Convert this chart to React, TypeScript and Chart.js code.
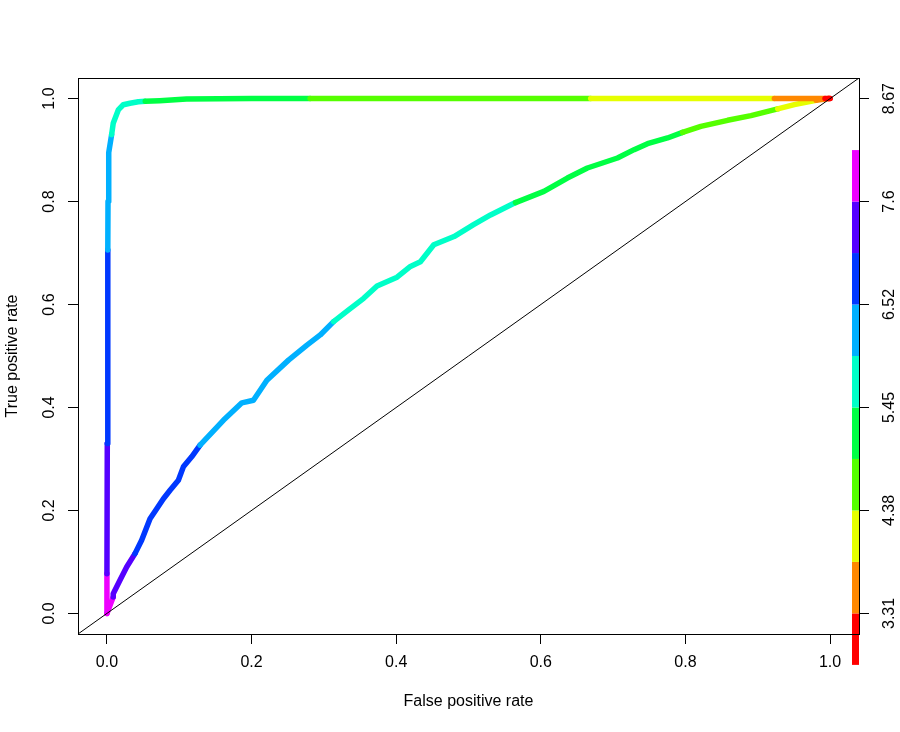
import React, { useEffect, useRef } from 'react';
import { Chart, registerables } from 'chart.js';

Chart.register(...registerables);

// ---- axis ticks ----
const xTicks = [0, 0.2, 0.4, 0.6, 0.8, 1.0];
const yTicks = [0, 0.2, 0.4, 0.6, 0.8, 1.0];
const colorbarLabels = ['3.31', '4.38', '5.45', '6.52', '7.6', '8.67'];

// ---- colour key (low cutoff -> high cutoff) ----
const palette = ['#FF0000', '#FF8800', '#E6FF00', '#55FF00', '#00FF44', '#00FFC8', '#00B0FF', '#0038FF', '#5500FF', '#EE00FF'];
const cutoffMin = 2.774;
const cutoffMax = 8.134;

// ---- ROC curve A (near-perfect classifier) ----
const rocA_fpr = [0, 0, 0.0005, 0.0012, 0.0015, 0.0025, 0.0065, 0.0087, 0.0157, 0.0226, 0.0319, 0.0434, 0.053, 0.073, 0.110, 0.200, 0.281, 0.669, 0.923, 0.993, 1.0];
const rocA_tpr = [0, 0.077, 0.33, 0.706, 0.80, 0.895, 0.930, 0.952, 0.978, 0.988, 0.991, 0.994, 0.995, 0.996, 0.999, 1.0, 1.0, 1.0, 1.0, 1.0, 1.0];
const rocA_cut = [8.0, 7.4, 6.8, 6.3, 6.2, 6.1, 5.9, 5.85, 5.8, 5.7, 5.6, 5.5, 5.3, 5.2, 5.1, 5.0, 4.8, 4.2, 3.7, 3.0, 2.9];

// ---- ROC curve B (moderate classifier) ----
const rocB_fpr = [0, 0.0087, 0.0087, 0.018, 0.0273, 0.0388, 0.0480, 0.0596, 0.0689, 0.0781, 0.0873, 0.0988, 0.1057, 0.1172, 0.1288,
  0.161, 0.1866, 0.2026, 0.2212, 0.2511, 0.2766, 0.2950, 0.3134, 0.3342, 0.355, 0.3735, 0.4012, 0.4197, 0.4335, 0.452, 0.480,
  0.507, 0.5305, 0.565, 0.6043, 0.6367, 0.6644, 0.706, 0.729, 0.7475, 0.7752, 0.796, 0.8213, 0.8583, 0.8906, 0.9276, 0.9506,
  0.9806, 0.998, 1.0];
const rocB_tpr = [0, 0.0317, 0.0383, 0.0642, 0.0901, 0.1161, 0.1420, 0.1838, 0.2033, 0.2228, 0.2393, 0.2588, 0.2847, 0.3042, 0.3268,
  0.375, 0.409, 0.414, 0.453, 0.492, 0.521, 0.5409, 0.5667, 0.5895, 0.612, 0.636, 0.653, 0.674, 0.683, 0.716, 0.732,
  0.755, 0.774, 0.798, 0.8197, 0.8457, 0.8652, 0.8846, 0.9008, 0.9125, 0.9235, 0.9344, 0.9461, 0.9578, 0.9669, 0.980, 0.9883,
  0.9967, 1.0, 1.0];
const rocB_cut = [8.0, 7.5, 7.45, 7.35, 7.2, 7.0, 6.98, 6.9, 6.87, 6.83, 6.8, 6.75, 6.7, 6.6, 6.5,
  6.45, 6.4, 6.35, 6.3, 6.2, 6.1, 6.05, 5.9, 5.85, 5.8, 5.75, 5.7, 5.65, 5.6, 5.55, 5.52,
  5.5, 5.47, 5.4, 5.3, 5.25, 5.2, 5.1, 5.05, 5.0, 4.95, 4.9, 4.8, 4.7, 4.5, 4.3, 4.1,
  3.8, 3.2, 3.0];

// ---- reference diagonal ----
const diag_x = [-0.04, 1.04];
const diag_y = [-0.04, 1.04];

const FONT = "'Liberation Sans', Arial, Helvetica, sans-serif";

const colorForCut = (c: number) => {
  const step = (cutoffMax - cutoffMin) / palette.length;
  let i = Math.floor((c - cutoffMin) / step);
  if (i < 0) i = 0;
  if (i > palette.length - 1) i = palette.length - 1;
  return palette[i];
};

const labelLo = parseFloat(colorbarLabels[0]);
const labelHi = parseFloat(colorbarLabels[colorbarLabels.length - 1]);
const cutToY = (c: number) => yTicks[0] + (c - labelLo) / (labelHi - labelLo) * (yTicks[yTicks.length - 1] - yTicks[0]);

const toPoints = (xs: number[], ys: number[]) => xs.map((x, i) => ({ x, y: ys[i] }));

const rocDataset = (label: string, fpr: number[], tpr: number[], cut: number[]) => ({
  label,
  data: toPoints(fpr, tpr),
  borderColor: colorForCut(cut[0]),
  borderWidth: 5.5,
  borderCapStyle: 'round' as const,
  borderJoinStyle: 'round' as const,
  pointRadius: 0,
  tension: 0,
  fill: false,
  segment: {
    borderColor: (ctx: any) => colorForCut(cut[ctx.p0DataIndex]),
  },
});

const boxAndKey = {
  id: 'boxAndKey',
  afterDatasetsDraw(chart: any) {
    const { ctx, chartArea } = chart;
    const ys = chart.scales.y;
    const step = (cutoffMax - cutoffMin) / palette.length;
    const barRight = chartArea.right;
    const barLeft = barRight - 7;
    ctx.save();
    palette.forEach((col, i) => {
      const c0 = cutoffMin + i * step;
      const c1 = c0 + step;
      const p0 = ys.getPixelForValue(cutToY(c0));
      const p1 = ys.getPixelForValue(cutToY(c1));
      ctx.fillStyle = col;
      ctx.fillRect(barLeft, p1, barRight - barLeft, p0 - p1);
    });
    ctx.strokeStyle = '#000';
    ctx.lineWidth = 1;
    ctx.strokeRect(chartArea.left + 0.5, chartArea.top + 0.5,
      chartArea.right - chartArea.left, chartArea.bottom - chartArea.top);
    ctx.restore();
  },
};

const tickFont = { family: FONT, size: 16 };

export default function App() {
  const ref = useRef<HTMLCanvasElement>(null);
  useEffect(() => {
    document.body.style.margin = '0';
    const canvas = ref.current;
    if (!canvas) return;
    const chart = new Chart(canvas, {
      type: 'line',
      data: {
        datasets: [
          {
            label: 'diagonal',
            data: toPoints(diag_x, diag_y),
            borderColor: '#000',
            borderWidth: 1,
            pointRadius: 0,
            fill: false,
          } as any,
          rocDataset('ROC A', rocA_fpr, rocA_tpr, rocA_cut) as any,
          rocDataset('ROC B', rocB_fpr, rocB_tpr, rocB_cut) as any,
        ],
      },
      options: {
        responsive: false,
        animation: false,
        devicePixelRatio: 1,
        layout: { padding: { top: 78, left: 0, right: 0, bottom: 0 } },
        plugins: { legend: { display: false }, tooltip: { enabled: false } },
        scales: {
          x: {
            type: 'linear',
            position: 'bottom',
            min: -0.04,
            max: 1.04,
            afterBuildTicks: (s: any) => { s.ticks = xTicks.map((v) => ({ value: v })); },
            afterFit: (s: any) => { s.height = 98; },
            ticks: {
              autoSkip: false,
              maxRotation: 0,
              minRotation: 0,
              padding: 9,
              color: '#000',
              font: tickFont,
              callback: (v: any) => Number(v).toFixed(1),
            },
            grid: { drawOnChartArea: false, drawTicks: true, tickLength: 10, color: '#000', tickColor: '#000' },
            border: { display: false },
            title: {
              display: true,
              text: 'False positive rate',
              color: '#000',
              font: tickFont,
              padding: { top: 0, bottom: 21 },
            },
          },
          y: {
            type: 'linear',
            position: 'left',
            min: -0.04,
            max: 1.04,
            afterBuildTicks: (s: any) => { s.ticks = yTicks.map((v) => ({ value: v })); },
            afterFit: (s: any) => { s.width = 78; },
            ticks: {
              autoSkip: false,
              minRotation: 90,
              maxRotation: 90,
              crossAlign: 'center',
              padding: 7,
              color: '#000',
              font: tickFont,
              callback: (v: any) => Number(v).toFixed(1),
            },
            grid: { drawOnChartArea: false, drawTicks: true, tickLength: 10, color: '#000', tickColor: '#000' },
            border: { display: false },
            title: {
              display: true,
              text: 'True positive rate',
              color: '#000',
              font: tickFont,
              padding: { top: 3, bottom: 0 },
            },
          },
          y2: {
            type: 'linear',
            position: 'right',
            min: -0.04,
            max: 1.04,
            afterBuildTicks: (s: any) => { s.ticks = yTicks.map((v) => ({ value: v })); },
            afterFit: (s: any) => { s.width = 41; },
            ticks: {
              autoSkip: false,
              minRotation: 90,
              maxRotation: 90,
              crossAlign: 'center',
              padding: 5,
              color: '#000',
              font: tickFont,
              callback: (v: any) => {
                const i = yTicks.findIndex((t) => Math.abs(t - Number(v)) < 1e-9);
                return i >= 0 ? colorbarLabels[i] : '';
              },
            },
            grid: { drawOnChartArea: false, drawTicks: true, tickLength: 10, color: '#000', tickColor: '#000' },
            border: { display: false },
          },
        },
      } as any,
      plugins: [boxAndKey],
    });
    return () => chart.destroy();
  }, []);

  return (
    <div style={{ position: 'fixed', left: 0, top: 0, width: 900, height: 732, background: '#fff' }}>
      <canvas ref={ref} width={900} height={732} style={{ display: 'block', width: 900, height: 732 }} />
    </div>
  );
}
